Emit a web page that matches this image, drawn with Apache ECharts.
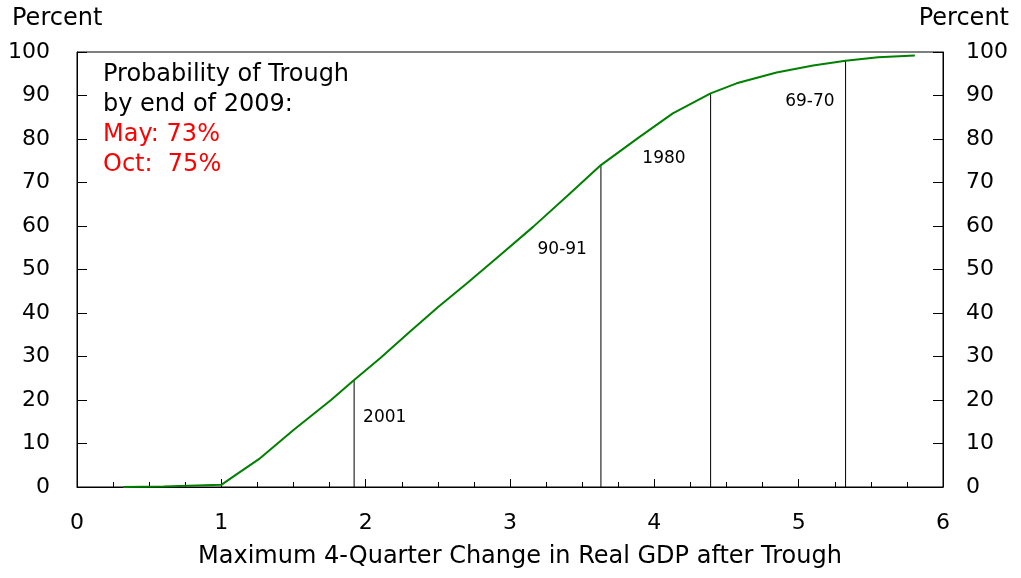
<!DOCTYPE html>
<html>
<head>
<meta charset="utf-8">
<script src="https://cdn.jsdelivr.net/npm/echarts@6/dist/echarts.min.js"></script>
<style>
  html, body { margin: 0; padding: 0; background: #fff; }
  #chart { width: 1021px; height: 578px; }
</style>
</head>
<body>
<div id="chart"></div>
<script>
// probability curve
var gdpChange = [0.32, 0.6, 1.0, 1.1, 1.26, 1.5, 1.76, 1.92, 2.1, 2.306, 2.5, 2.7, 2.9, 3.16, 3.4, 3.63, 3.886, 4.128, 4.39, 4.57, 4.847, 5.1, 5.325, 5.55, 5.805];
var troughProb = [0, 0.1, 0.5, 2.8, 6.4, 13.1, 20.0, 24.6, 29.6, 35.7, 41.3, 46.8, 52.4, 59.8, 67.0, 74.0, 80.2, 85.9, 90.5, 92.8, 95.3, 96.9, 98.0, 98.8, 99.2];

// past recoveries
var episodeNames = ["2001", "90-91", "1980", "69-70"];
var episodeX = [1.92, 3.63, 4.39, 5.325];
var episodeY = [24.6, 74.0, 90.5, 98.0];

// label placement (pixels from top of each line)
var episodeLabelStyle = [
  { dx: 9, dy: 38, align: "left" },
  { dx: -14, dy: 84, align: "right" },
  { dx: -25, dy: 65, align: "right" },
  { dx: -11, dy: 41, align: "right" }
];

var xTicks = [0, 1, 2, 3, 4, 5, 6];
var yTicks = [0, 10, 20, 30, 40, 50, 60, 70, 80, 90, 100];

var FONT = "DejaVu Sans";

var chart = echarts.init(document.getElementById("chart"));

var curveData = gdpChange.map(function (x, i) { return [x, troughProb[i]]; });
var episodeData = episodeX.map(function (x, i) { return [x, episodeY[i], i]; });

function yAxisFor(pos, margin) {
  return {
    type: "value",
    position: pos,
    min: yTicks[0],
    max: yTicks[yTicks.length - 1],
    interval: 10,
    axisLine: { show: true, lineStyle: { color: "#000", width: 1 } },
    axisTick: { show: true, inside: true, length: 10, lineStyle: { color: "#000" } },
    axisLabel: { color: "#000", fontSize: 22, fontFamily: FONT, margin: margin },
    splitLine: { show: false }
  };
}

var option = {
  backgroundColor: "#fff",
  animation: false,
  title: [
    { text: "Percent", left: 7, top: 2, textStyle: { fontSize: 24, fontWeight: "normal", color: "#000", fontFamily: FONT } },
    { text: "Percent", right: 7, top: 2, textStyle: { fontSize: 24, fontWeight: "normal", color: "#000", fontFamily: FONT } },
    {
      text: "{b|Probability of Trough}\n{b|by end of 2009:}\n{r|May: 73%}\n{r|Oct:  75%}",
      left: 98,
      top: 55,
      textStyle: {
        fontWeight: "normal",
        rich: {
          b: { fontSize: 24, fontWeight: "normal", color: "#000", fontFamily: FONT, lineHeight: 30 },
          r: { fontSize: 24, fontWeight: "normal", color: "#ff0000", fontFamily: FONT, lineHeight: 30 }
        }
      }
    }
  ],
  grid: {
    left: 77,
    right: 78,
    top: 52,
    bottom: 91,
    show: true,
    borderColor: "#000",
    borderWidth: 1,
    backgroundColor: "transparent"
  },
  xAxis: {
    type: "value",
    min: xTicks[0],
    max: xTicks[xTicks.length - 1],
    interval: 1,
    name: "Maximum 4-Quarter Change in Real GDP after Trough",
    nameLocation: "middle",
    nameGap: 58,
    nameTextStyle: { fontSize: 24, color: "#000", fontFamily: FONT, padding: [0, 0, 0, 20] },
    axisLine: { show: true, lineStyle: { color: "#000", width: 1 } },
    axisTick: { show: true, inside: true, length: 8, lineStyle: { color: "#000" } },
    minorTick: { show: true, splitNumber: 4, length: 5, lineStyle: { color: "#000" } },
    axisLabel: { color: "#000", fontSize: 22, fontFamily: FONT, margin: 25 },
    splitLine: { show: false }
  },
  yAxis: [yAxisFor("left", 27), yAxisFor("right", 23)],
  series: [
    {
      type: "custom",
      name: "episodes",
      data: episodeData,
      renderItem: function (params, api) {
        var x = api.value(0);
        var y = api.value(1);
        var idx = api.value(2);
        var bottom = api.coord([x, 0]);
        var top = api.coord([x, y]);
        var st = episodeLabelStyle[idx];
        return {
          type: "group",
          children: [
            {
              type: "line",
              shape: { x1: top[0], y1: bottom[1], x2: top[0], y2: top[1] },
              style: { stroke: "#000", lineWidth: 1 }
            },
            {
              type: "text",
              x: top[0] + st.dx,
              y: top[1] + st.dy,
              style: {
                text: episodeNames[idx],
                fill: "#000",
                font: "17px " + FONT,
                align: st.align,
                verticalAlign: "middle"
              }
            }
          ]
        };
      },
      z: 1
    },
    {
      type: "line",
      name: "probability",
      data: curveData,
      showSymbol: false,
      symbol: "none",
      lineStyle: { color: "#008000", width: 2 },
      z: 3
    }
  ]
};

chart.setOption(option);
</script>
</body>
</html>
